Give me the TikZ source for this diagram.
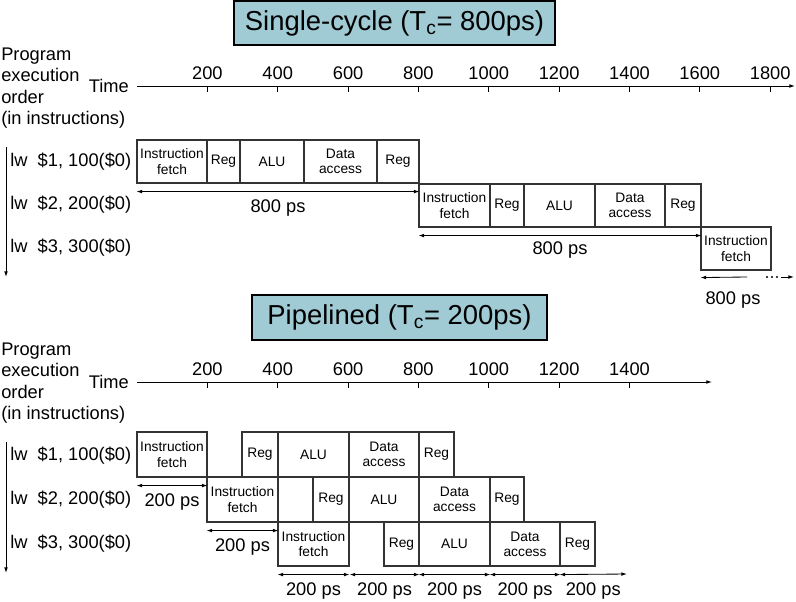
\documentclass[tikz,border=0pt]{standalone}
\usepackage{fontspec}
\setmainfont{Liberation Sans}
\usetikzlibrary{arrows.meta}
\definecolor{titlefill}{RGB}{160,202,212}
\newcommand{\lblfont}{\fontsize{13}{15.3}\selectfont}
\newcommand{\stgfont}{\fontsize{9.8}{10.8}\selectfont}
\newcommand{\stage}[6]{%
  \node[draw=black!80,line width=0.8pt,inner sep=0pt,align=center,font=\stgfont,
    minimum width={(#3-#2)*0.025cm},minimum height={(#5-#4)*0.025cm}]
    (#1) at ({(#2+#3)/2},{(#4+#5)/2}) {#6};%
}
\newcommand{\timetick}[4]{%
  \draw[line width=0.6pt] (#1,#2) -- (#1,#2+6);
  \node[font=\lblfont,inner sep=0pt] (#4) at (#1,#2-13) {#3};%
}

\begin{document}
\begin{tikzpicture}[x=0.025cm,y=-0.025cm,
  lbl/.style={font=\lblfont,inner sep=0pt},
  tip/.style={-{Latex[length=4pt,width=2.6pt]},line width=0.6pt},
  dimarrow/.style={{Latex[length=4pt,width=2.6pt]}-{Latex[length=4pt,width=2.6pt]},line width=0.6pt},
  titlebox/.style={draw,fill=titlefill,line width=0.9pt,inner sep=0pt,
    font=\fontsize{19.5}{23}\selectfont}]
  \useasboundingbox (0,0) rectangle (796,602);

  % single-cycle
  \node[titlebox,minimum width=321*0.025cm,minimum height=44*0.025cm] (sctitle)
    at (394.5,23) {Single-cycle (T\textsubscript{c}= 800ps)};

  \node[lbl,anchor=west,align=left] (order1) at (1,88) {Program\\execution\\order\\(in instructions)};
  \node[lbl,anchor=east] (time1) at (129,86) {Time};
  \coordinate (axend1) at (795,86);
  \draw[tip] ([xshift=0.2cm]time1.east) -- (axend1);
  \timetick{207.4}{86}{200}{ta1}
  \timetick{277.7}{86}{400}{ta2}
  \timetick{348.1}{86}{600}{ta3}
  \timetick{418.4}{86}{800}{ta4}
  \timetick{488.8}{86}{1000}{ta5}
  \timetick{559.1}{86}{1200}{ta6}
  \timetick{629.5}{86}{1400}{ta7}
  \timetick{699.8}{86}{1600}{ta8}
  \timetick{770.2}{86}{1800}{ta9}

  \coordinate (ord1top) at (6,147);
  \coordinate (ord1bot) at (6,277);
  \draw[tip] (ord1top) -- (ord1bot);
  \node[lbl,anchor=west] (insa1) at (10,162) {lw\ \ \$1, 100(\$0)};
  \node[lbl,anchor=west] (insa2) at (10,205) {lw\ \ \$2, 200(\$0)};
  \node[lbl,anchor=west] (insa3) at (10,248) {lw\ \ \$3, 300(\$0)};

  \stage{a1}{137}{207}{140}{183}{Instruction\\fetch}
  \stage{a2}{207}{240}{140}{183}{Reg}
  \stage{a3}{240}{304}{140}{183}{ALU}
  \stage{a4}{304}{377}{140}{183}{Data\\access}
  \stage{a5}{377}{419}{140}{183}{Reg}

  \stage{b1}{419}{490}{184}{227}{Instruction\\fetch}
  \stage{b2}{490}{524}{184}{227}{Reg}
  \stage{b3}{524}{595}{184}{227}{ALU}
  \stage{b4}{595}{665}{184}{227}{Data\\access}
  \stage{b5}{665}{701}{184}{227}{Reg}

  \stage{c1}{701}{771}{227}{270}{Instruction\\fetch}

  \draw[dimarrow] ([yshift=-0.2cm]a1.south west) -- ([yshift=-0.2cm]a5.south east)
    node[lbl,midway,yshift=-0.4cm] (da) {800 ps};
  \draw[dimarrow] ([yshift=-0.2cm]b1.south west) -- ([yshift=-0.2cm]b5.south east)
    node[lbl,midway,yshift=-0.35cm] (db) {800 ps};
  \coordinate (c1dim) at (747,277);
  \draw[tip] (c1dim) -- ([yshift=-0.175cm]c1.south west);
  \fill (767,277) circle[radius=0.8pt] (772,277) circle[radius=0.8pt] (777,277) circle[radius=0.8pt];
  \coordinate (c1cont) at (781,277);
  \coordinate (c1end) at (794,277);
  \draw[tip] (c1cont) -- (c1end);
  \node[lbl] (dc) at (733,300) {800 ps};

  % pipelined
  \node[titlebox,minimum width=295*0.025cm,minimum height=45*0.025cm] (pltitle)
    at (399.5,317.5) {Pipelined (T\textsubscript{c}= 200ps)};

  \node[lbl,anchor=west,align=left] (order2) at (1,383) {Program\\execution\\order\\(in instructions)};
  \node[lbl,anchor=east] (time2) at (129,382) {Time};
  \coordinate (axend2) at (712,382);
  \draw[tip] ([xshift=0.2cm]time2.east) -- (axend2);
  \timetick{207.4}{382}{200}{tb1}
  \timetick{277.7}{382}{400}{tb2}
  \timetick{348.1}{382}{600}{tb3}
  \timetick{418.4}{382}{800}{tb4}
  \timetick{488.8}{382}{1000}{tb5}
  \timetick{559.1}{382}{1200}{tb6}
  \timetick{629.5}{382}{1400}{tb7}

  \coordinate (ord2top) at (6,442);
  \coordinate (ord2bot) at (6,573);
  \draw[tip] (ord2top) -- (ord2bot);
  \node[lbl,anchor=west] (insb1) at (10,456) {lw\ \ \$1, 100(\$0)};
  \node[lbl,anchor=west] (insb2) at (10,500) {lw\ \ \$2, 200(\$0)};
  \node[lbl,anchor=west] (insb3) at (10,544) {lw\ \ \$3, 300(\$0)};

  \stage{p1}{137}{207}{432}{477}{Instruction\\fetch}
  \stage{p2}{242}{278}{432}{477}{Reg}
  \stage{p3}{278}{349}{432}{477}{ALU}
  \stage{p4}{349}{419}{432}{477}{Data\\access}
  \stage{p5}{419}{454}{432}{477}{Reg}

  \stage{q1}{207}{278}{477}{522}{Instruction\\fetch}
  \stage{q2}{313}{349}{477}{522}{Reg}
  \stage{q3}{349}{419}{477}{522}{ALU}
  \stage{q4}{419}{490}{477}{522}{Data\\access}
  \stage{q5}{490}{524}{477}{522}{Reg}

  \stage{r1}{278}{349}{522}{566}{Instruction\\fetch}
  \stage{r2}{384}{419}{522}{566}{Reg}
  \stage{r3}{419}{490}{522}{566}{ALU}
  \stage{r4}{490}{560}{522}{566}{Data\\access}
  \stage{r5}{560}{595}{522}{566}{Reg}

  \draw[dimarrow] ([yshift=-0.2cm]p1.south west) -- ([yshift=-0.2cm]p1.south east)
    node[lbl,midway,yshift=-0.42cm] (dp) {200 ps};
  \draw[dimarrow] ([yshift=-0.2cm]q1.south west) -- ([yshift=-0.2cm]q1.south east)
    node[lbl,midway,yshift=-0.42cm] (dq) {200 ps};
  \draw[dimarrow] ([yshift=-0.2cm]r1.south west) -- ([yshift=-0.2cm]r1.south east)
    node[lbl,midway,yshift=-0.42cm] (dr1) {200 ps};
  \draw[dimarrow] ([yshift=-0.2cm]r1.south east) -- ([yshift=-0.2cm]r2.south east)
    node[lbl,midway,yshift=-0.42cm] (dr2) {200 ps};
  \draw[dimarrow] ([yshift=-0.2cm]r3.south west) -- ([yshift=-0.2cm]r3.south east)
    node[lbl,midway,yshift=-0.42cm] (dr3) {200 ps};
  \draw[dimarrow] ([yshift=-0.2cm]r4.south west) -- ([yshift=-0.2cm]r4.south east)
    node[lbl,midway,yshift=-0.42cm] (dr4) {200 ps};
  \coordinate (r5end) at (627,574);
  \draw[dimarrow] ([yshift=-0.2cm]r5.south west) -- (r5end)
    node[lbl,midway,yshift=-0.42cm] (dr5) {200 ps};
\end{tikzpicture}
\end{document}
